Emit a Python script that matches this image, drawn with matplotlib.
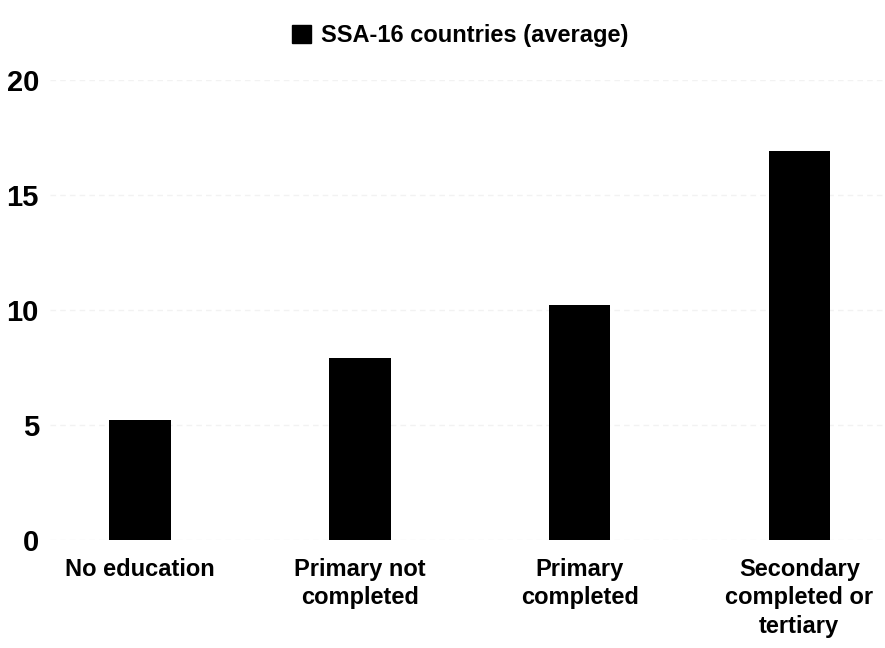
import matplotlib
matplotlib.use("Agg")
import matplotlib.pyplot as plt
from matplotlib import font_manager
from matplotlib.patches import Patch

# Education level vs. average value, SSA-16 countries
categories = ["No education", "Primary not\ncompleted", "Primary\ncompleted",
              "Secondary\ncompleted or\ntertiary"]
values = [5.2, 7.9, 10.2, 16.9]
y_ticks = [0, 5, 10, 15, 20]
series_label = "SSA-16 countries (average)"

# prefer a condensed bold face if one is installed
installed = {f.name for f in font_manager.fontManager.ttflist}
family = "Liberation Sans Narrow" if "Liberation Sans Narrow" in installed else "Liberation Sans"
plt.rcParams["font.family"] = [family, "DejaVu Sans"]
plt.rcParams["font.weight"] = "bold"

fig = plt.figure(figsize=(8.85, 6.48), dpi=100)
ax = fig.add_axes([50 / 885, 108 / 648, 835 / 885, 460 / 648])

x = range(len(categories))
ax.bar(x, values, width=0.28, color="black", zorder=3)

ax.set_xlim(-0.41, 3.39)
ax.set_ylim(0, 20)
ax.set_yticks(y_ticks)
ax.set_xticks(list(x))
ax.set_xticklabels(categories, fontsize=17, linespacing=1.3)
ax.tick_params(axis="y", labelsize=21, length=0, pad=8)
ax.tick_params(axis="x", length=0, pad=13)
for lbl in ax.get_yticklabels() + ax.get_xticklabels():
    lbl.set_fontweight("bold")

ax.grid(axis="y", color="#f2f2f2", linewidth=1, linestyle=(0, (4, 3)), zorder=0)
for side in ax.spines.values():
    side.set_visible(False)

handle = [Patch(facecolor="black", edgecolor="black")]
fig.legend(handle, [series_label], loc="upper center", bbox_to_anchor=(0.52, 0.995),
           frameon=False, handlelength=0.8, handleheight=0.8,
           handletextpad=0.4, prop={"weight": "bold", "size": 17})

fig.savefig("out.png", dpi=100)
